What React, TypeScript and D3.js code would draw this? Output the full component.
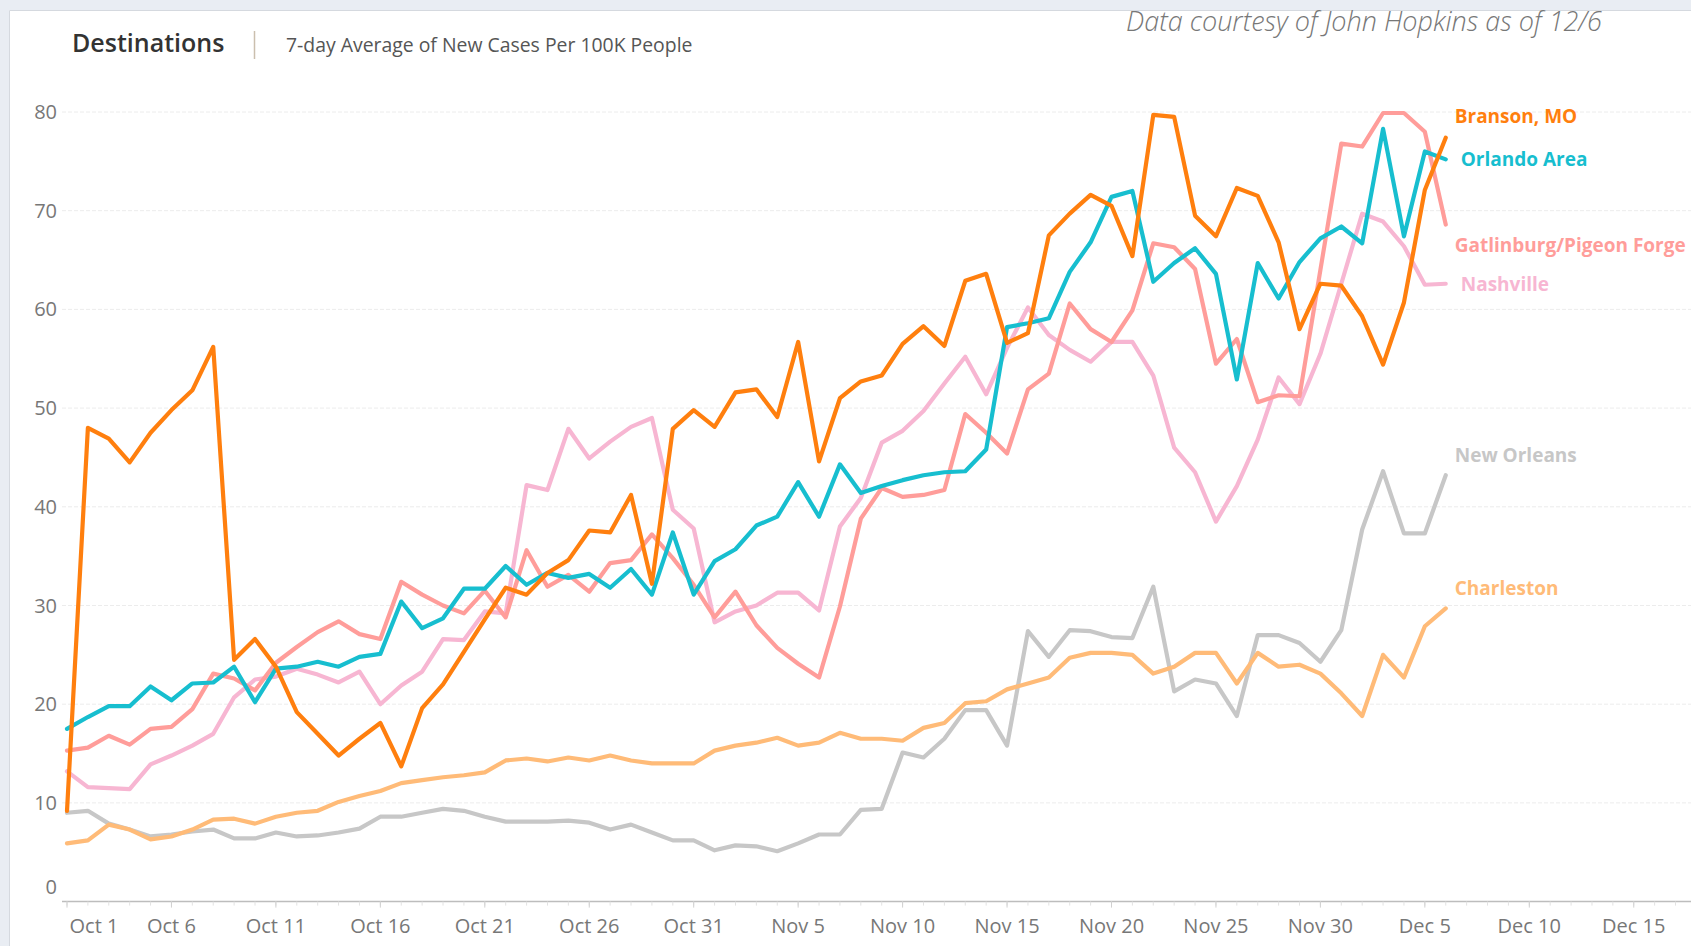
import { useEffect } from "react";
import * as d3 from "d3";

// days from Oct 1 to Dec 6, 2020
const startDay = new Date(2020, 9, 1);
const endDay = new Date(2020, 11, 6);

const branson = [9.2, 48.0, 46.9, 44.5, 47.5, 49.8, 51.8, 56.2, 24.5, 26.6, 23.8, 19.2, 17.0, 14.8, 16.5, 18.1, 13.7, 19.6, 22.0, 25.3,
  28.6, 31.8, 31.1, 33.3, 34.6, 37.6, 37.4, 41.2, 32.2, 47.9, 49.8, 48.1, 51.6, 51.9, 49.1, 56.7, 44.6, 51.0, 52.7, 53.3,
  56.5, 58.3, 56.3, 62.9, 63.6, 56.6, 57.6, 67.5, 69.7, 71.6, 70.5, 65.4, 79.7, 79.5, 69.5, 67.4, 72.3, 71.5, 66.8, 58.0,
  62.6, 62.4, 59.3, 54.4, 60.7, 72.1, 77.4];
const orlando = [17.5, 18.7, 19.8, 19.8, 21.8, 20.4, 22.1, 22.2, 23.8, 20.2, 23.6, 23.8, 24.3, 23.8, 24.8, 25.1, 30.4, 27.7, 28.7, 31.7,
  31.7, 34.0, 32.1, 33.3, 32.8, 33.2, 31.8, 33.7, 31.1, 37.4, 31.1, 34.5, 35.7, 38.1, 39.0, 42.5, 39.0, 44.3, 41.4, 42.1,
  42.7, 43.2, 43.5, 43.6, 45.8, 58.2, 58.6, 59.1, 63.8, 66.8, 71.4, 72.0, 62.8, 64.7, 66.2, 63.6, 52.9, 64.7, 61.1, 64.8,
  67.2, 68.4, 66.7, 78.3, 67.4, 76.0, 75.2];
const gatlinburg = [15.3, 15.6, 16.8, 15.9, 17.5, 17.7, 19.5, 23.1, 22.6, 21.4, 24.2, 25.8, 27.3, 28.4, 27.1, 26.6, 32.4, 31.1, 30.0, 29.2,
  31.5, 28.8, 35.6, 31.9, 33.1, 31.4, 34.3, 34.6, 37.2, 34.8, 32.1, 28.8, 31.4, 28.0, 25.7, 24.1, 22.7, 29.9, 38.8, 41.9,
  41.0, 41.2, 41.7, 49.4, 47.5, 45.4, 51.9, 53.5, 60.6, 58.0, 56.7, 59.9, 66.7, 66.3, 64.1, 54.5, 57.0, 50.6, 51.3, 51.2,
  64.0, 76.8, 76.5, 79.9, 79.9, 78.0, 68.6];
const nashville = [13.2, 11.6, 11.5, 11.4, 13.9, 14.8, 15.8, 17.0, 20.7, 22.5, 22.8, 23.6, 23.0, 22.2, 23.3, 20.0, 21.9, 23.3, 26.6, 26.5,
  29.4, 29.2, 42.2, 41.7, 47.9, 44.9, 46.6, 48.1, 49.0, 39.7, 37.8, 28.3, 29.4, 30.0, 31.3, 31.3, 29.5, 38.0, 40.9, 46.5,
  47.7, 49.7, 52.5, 55.2, 51.4, 56.1, 60.2, 57.4, 55.9, 54.7, 56.7, 56.7, 53.3, 46.0, 43.5, 38.5, 42.1, 46.8, 53.1, 50.4,
  55.5, 62.6, 69.7, 68.9, 66.4, 62.5, 62.6];
const newOrleans = [9.0, 9.2, 7.9, 7.3, 6.6, 6.8, 7.1, 7.3, 6.4, 6.4, 7.0, 6.6, 6.7, 7.0, 7.4, 8.6, 8.6, 9.0, 9.4, 9.2,
  8.6, 8.1, 8.1, 8.1, 8.2, 8.0, 7.3, 7.8, 7.0, 6.2, 6.2, 5.2, 5.7, 5.6, 5.1, 5.9, 6.8, 6.8, 9.3, 9.4,
  15.1, 14.6, 16.5, 19.4, 19.4, 15.8, 27.4, 24.8, 27.5, 27.4, 26.8, 26.7, 31.9, 21.3, 22.5, 22.1, 18.8, 27.0, 27.0, 26.2,
  24.3, 27.5, 37.7, 43.6, 37.3, 37.3, 43.2];
const charleston = [5.9, 6.2, 7.8, 7.3, 6.3, 6.6, 7.3, 8.3, 8.4, 7.9, 8.6, 9.0, 9.2, 10.1, 10.7, 11.2, 12.0, 12.3, 12.6, 12.8,
  13.1, 14.3, 14.5, 14.2, 14.6, 14.3, 14.8, 14.3, 14.0, 14.0, 14.0, 15.3, 15.8, 16.1, 16.6, 15.8, 16.1, 17.1, 16.5, 16.5,
  16.3, 17.6, 18.1, 20.1, 20.3, 21.5, 22.1, 22.7, 24.7, 25.2, 25.2, 25.0, 23.1, 23.8, 25.2, 25.2, 22.1, 25.2, 23.8, 24.0,
  23.1, 21.1, 18.8, 25.0, 22.7, 27.9, 29.7];

const seriesNames = ["New Orleans", "Charleston", "Nashville", "Gatlinburg/Pigeon Forge", "Orlando Area", "Branson, MO"];
const seriesValues = [newOrleans, charleston, nashville, gatlinburg, orlando, branson];
const seriesColors = ["#c7c7c7", "#ffbb78", "#f7b6d2", "#ff9d9a", "#17becf", "#ff7f0e"];

const yTicks = [0, 10, 20, 30, 40, 50, 60, 70, 80];
const xTickLabels = ["Oct 1", "Oct 6", "Oct 11", "Oct 16", "Oct 21", "Oct 26", "Oct 31", "Nov 5", "Nov 10",
  "Nov 15", "Nov 20", "Nov 25", "Nov 30", "Dec 5", "Dec 10", "Dec 15"];

const W = 1691;
const H = 946;
const font = "'Open Sans', sans-serif";

export default function App() {
  useEffect(() => {
    document.body.style.margin = "0";
  }, []);

  const days = d3.timeDay.range(startDay, d3.timeDay.offset(endDay, 1));
  const x = d3.scaleTime()
    .domain([startDay, new Date(2020, 11, 15)])
    .range([67, 67 + 75 * 20.89]);
  const y = d3.scaleLinear().domain([0, 80]).range([901.6, 112]);

  const line = d3.line<number>()
    .x((_, i) => x(days[i]))
    .y((d) => y(d));

  const parse = d3.timeParse("%b %d %Y");
  const tickDates = xTickLabels.map((s) => parse(s + " 2020") as Date);
  const allDays = d3.timeDay.range(startDay, new Date(2020, 11, 19));

  const lastIdx = days.length - 1;
  // label placement next to the line ends
  const labelY = [455, 588, 284, 245, 159, 116];
  const labelDx = [9, 9, 15, 9, 15, 9];

  return (
    <svg width={W} height={H} style={{ display: "block", background: "#fff" }}>
      <rect x={0} y={0} width={W} height={10} fill="#e9edf3" />
      <rect x={0} y={0} width={9} height={H} fill="#e9edf3" />
      <line x1={9.5} x2={W} y1={10.5} y2={10.5} stroke="#d5d9df" />
      <line x1={9.5} x2={9.5} y1={10.5} y2={H} stroke="#d5d9df" />

      <text x={72} y={52} fontFamily={font} fontSize={25} fontWeight={600} fill="#333">Destinations</text>
      <line x1={254.5} x2={254.5} y1={31} y2={59} stroke="#cbbfae" strokeWidth={1.5} />
      <text x={286} y={52} fontFamily={font} fontSize={19.4} fill="#555">7-day Average of New Cases Per 100K People</text>
      <text x={1126} y={31} fontFamily={font} fontSize={27} fontStyle="italic" fontWeight={300} fill="#777">
        Data courtesy of John Hopkins as of 12/6
      </text>

      {yTicks.map((t) => (
        <g key={t}>
          {t > 0 && (
            <line x1={62} x2={W} y1={y(t)} y2={y(t)} stroke="#ececec" strokeDasharray="4,2" />
          )}
          <text x={57} y={t === 0 ? y(t) - 15 : y(t)} dy="0.35em" textAnchor="end"
            fontFamily={font} fontSize={20} fill="#777">{t}</text>
        </g>
      ))}

      <line x1={62} x2={W} y1={y(0)} y2={y(0)} stroke="#bdbdbd" strokeWidth={1.5} />
      {allDays.map((d, i) => (
        <line key={i} x1={x(d)} x2={x(d)} y1={y(0)} y2={y(0) + 4} stroke="#e2e2e2" />
      ))}
      {tickDates.map((d, i) => (
        <g key={i}>
          <line x1={x(d)} x2={x(d)} y1={y(0)} y2={y(0) + 6} stroke="#d0d0d0" />
          <text x={i === 0 ? x(d) + 27 : x(d)} y={926} dy="0.35em" textAnchor="middle"
            fontFamily={font} fontSize={20} fill="#777">{xTickLabels[i]}</text>
        </g>
      ))}

      {seriesValues.map((vals, k) => (
        <path key={k} d={line(vals) || ""} fill="none" stroke={seriesColors[k]}
          strokeWidth={4.2} strokeLinejoin="round" strokeLinecap="round" />
      ))}

      {seriesNames.map((name, k) => (
        <text key={name} x={x(days[lastIdx]) + labelDx[k]} y={labelY[k]} dy="0.35em"
          fontFamily={font} fontSize={19} fontWeight={700} fill={seriesColors[k]}>{name}</text>
      ))}
    </svg>
  );
}
